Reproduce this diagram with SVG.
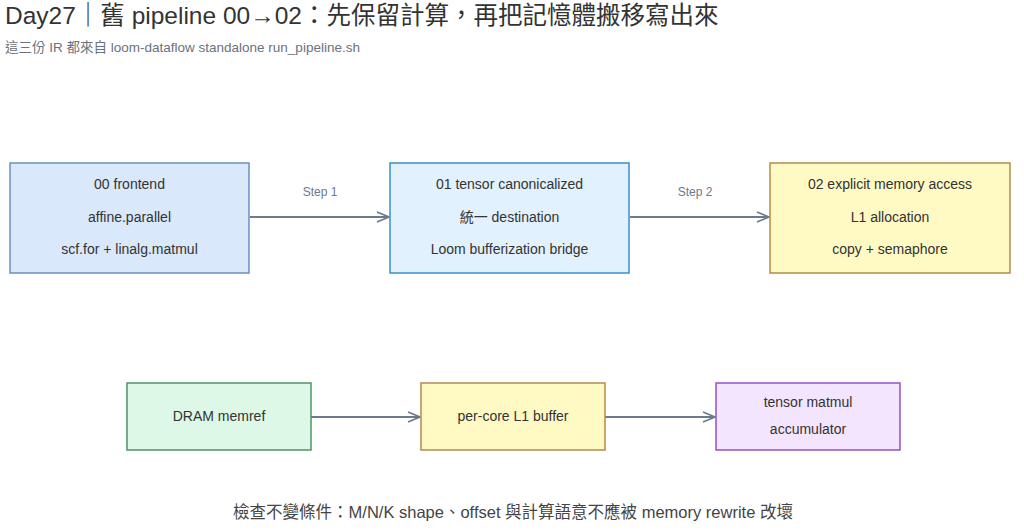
<svg xmlns="http://www.w3.org/2000/svg" width="1024" height="532" viewBox="0 0 1024 532">
<style>
text{font-family:"Liberation Sans","Noto Sans CJK TC",sans-serif;}
.t{font-size:14px;fill:#333333;text-anchor:middle;}
.s{font-size:12px;fill:#6b7a8c;text-anchor:middle;}
.e{stroke:#6b7a8c;stroke-width:2;fill:none;}
</style>
<defs>
<marker id="a" markerWidth="14" markerHeight="12" refX="13" refY="6" orient="auto" markerUnits="userSpaceOnUse">
<path d="M1,1 L13,6 L1,11" fill="none" stroke="#6b7a8c" stroke-width="1.6"/>
</marker>
</defs>
<rect width="1024" height="532" fill="#ffffff"/>
<text x="5" y="24" style="font-size:24.5px;fill:#333333">Day27｜舊 pipeline 00→02：先保留計算，再把記憶體搬移寫出來</text>
<text x="5" y="52" style="font-size:13.5px;fill:#6b7280">這三份 IR 都來自 loom-dataflow standalone run_pipeline.sh</text>
<g id="connectors">
<line class="e" x1="250" y1="217" x2="389" y2="217" marker-end="url(#a)"/>
<text class="s" x="320" y="196">Step 1</text>
<line class="e" x1="630" y1="217" x2="769" y2="217" marker-end="url(#a)"/>
<text class="s" x="695" y="196">Step 2</text>
<line class="e" x1="311" y1="417" x2="420" y2="417" marker-end="url(#a)"/>
<line class="e" x1="605" y1="417" x2="715" y2="417" marker-end="url(#a)"/>
</g>
<g id="n00">
<rect x="10" y="163" width="239" height="110" fill="#dae8fc" stroke="#6c8ebf" stroke-width="1.5"/>
<text class="t" x="129.5" y="189">00 frontend</text>
<text class="t" x="129.5" y="222">affine.parallel</text>
<text class="t" x="129.5" y="254">scf.for + linalg.matmul</text>
</g>
<g id="n01">
<rect x="390" y="163" width="239" height="110" fill="#e1f1fd" stroke="#3a8fc8" stroke-width="1.5"/>
<text class="t" x="509.5" y="189">01 tensor canonicalized</text>
<text class="t" x="509.5" y="222">統一 destination</text>
<text class="t" x="509.5" y="254">Loom bufferization bridge</text>
</g>
<g id="n02">
<rect x="770" y="163" width="240" height="110" fill="#fff9c4" stroke="#b58a4a" stroke-width="1.5"/>
<text class="t" x="890" y="189">02 explicit memory access</text>
<text class="t" x="890" y="222">L1 allocation</text>
<text class="t" x="890" y="254">copy + semaphore</text>
</g>
<g id="dram">
<rect x="127" y="383" width="184" height="67" fill="#ddf8e6" stroke="#4f9466" stroke-width="1.5"/>
<text class="t" x="219" y="421">DRAM memref</text>
</g>
<g id="l1">
<rect x="421" y="383" width="184" height="67" fill="#fff9c4" stroke="#b58a4a" stroke-width="1.5"/>
<text class="t" x="513" y="421">per-core L1 buffer</text>
</g>
<g id="acc">
<rect x="716" y="383" width="184" height="67" fill="#f3e5fd" stroke="#9650c8" stroke-width="1.5"/>
<text class="t" x="808" y="407">tensor matmul</text>
<text class="t" x="808" y="434">accumulator</text>
</g>
<text x="513" y="518" style="font-size:16.5px;fill:#444444;text-anchor:middle">檢查不變條件：M/N/K shape、offset 與計算語意不應被 memory rewrite 改壞</text>
</svg>
